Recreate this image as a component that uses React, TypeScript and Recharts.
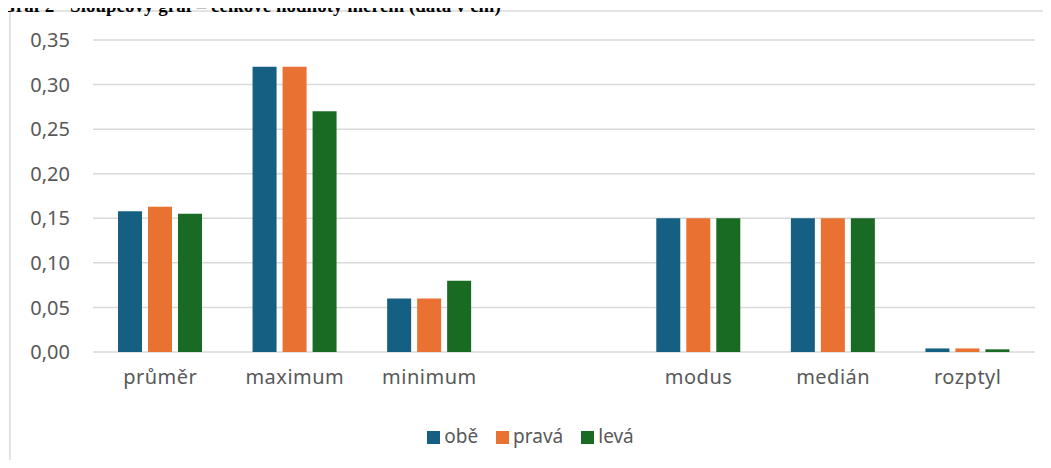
import { Bar, BarChart, CartesianGrid, Legend, XAxis, YAxis } from "recharts";

const CATEGORIES = ["průměr", "maximum", "minimum", "", "modus", "medián", "rozptyl"];
const OBE = [0.158, 0.32, 0.06, null, 0.15, 0.15, 0.004];
const PRAVA = [0.163, 0.32, 0.06, null, 0.15, 0.15, 0.004];
const LEVA = [0.155, 0.27, 0.08, null, 0.15, 0.15, 0.003];
const Y_TICKS = [0, 0.05, 0.1, 0.15, 0.2, 0.25, 0.3, 0.35];

const SERIES = [
  { key: "obe", name: "obě", color: "#156082" },
  { key: "prava", name: "pravá", color: "#E97132" },
  { key: "leva", name: "levá", color: "#196B24" },
];

const data = CATEGORIES.map((cat, i) => ({
  cat,
  obe: OBE[i],
  prava: PRAVA[i],
  leva: LEVA[i],
}));

const FONT = "'Noto Sans', 'Open Sans', sans-serif";
const TEXT = "#595959";

export default function App() {
  return (
    <div
      style={{
        position: "relative",
        width: 1051,
        height: 468,
        margin: -8,
        overflow: "hidden",
        background: "#fff",
      }}
    >
      {/* chart frame */}
      <div
        style={{
          position: "absolute",
          left: 9,
          top: 10,
          width: 1060,
          height: 480,
          border: "2px solid #e3e3e3",
          boxSizing: "border-box",
        }}
      />

      {/* title, cut off by the top edge like in the source page */}
      <div
        style={{
          position: "absolute",
          left: 1,
          top: -4,
          fontFamily: "'Liberation Serif', 'Times New Roman', serif",
          fontWeight: "bold",
          fontSize: 19,
          lineHeight: "19px",
          whiteSpace: "nowrap",
          color: "#000",
        }}
      >
        Graf 2 - Sloupcový graf – celkové hodnoty měření (data v cm)
      </div>

      <div style={{ position: "absolute", left: 0, top: 0 }}>
        <BarChart
          width={1051}
          height={468}
          data={data}
          margin={{ top: 40, right: 16, bottom: 76, left: 0 }}
          barSize={24}
          barGap={6}
        >
          <CartesianGrid vertical={false} stroke="#d9d9d9" strokeWidth={1.5} />
          <XAxis
            dataKey="cat"
            height={40}
            tickLine={false}
            axisLine={false}
            tickMargin={12}
            interval={0}
            tick={{ fill: TEXT, fontSize: 20, fontFamily: FONT, letterSpacing: 0.5 }}
          />
          <YAxis
            width={93}
            domain={[0, 0.35]}
            ticks={Y_TICKS}
            tickLine={false}
            axisLine={false}
            tickSize={0}
            tickMargin={23}
            tickFormatter={(v: number) => v.toFixed(2).replace(".", ",")}
            tick={{ fill: TEXT, fontSize: 20, fontFamily: FONT }}
          />
          <Legend
            layout="horizontal"
            verticalAlign="middle"
            align="center"
            iconType="square"
            iconSize={13}
            itemSorter={(item: any) => SERIES.findIndex((s) => s.name === item.value)}
            wrapperStyle={{ top: 423, paddingLeft: 22, fontFamily: FONT, fontSize: 19 }}
            formatter={(value: string) => (
              <span style={{ color: TEXT, marginRight: 8 }}>{value}</span>
            )}
          />
          {SERIES.map((s) => (
            <Bar
              key={s.key}
              dataKey={s.key}
              name={s.name}
              fill={s.color}
              isAnimationActive={false}
            />
          ))}
        </BarChart>
      </div>
    </div>
  );
}
